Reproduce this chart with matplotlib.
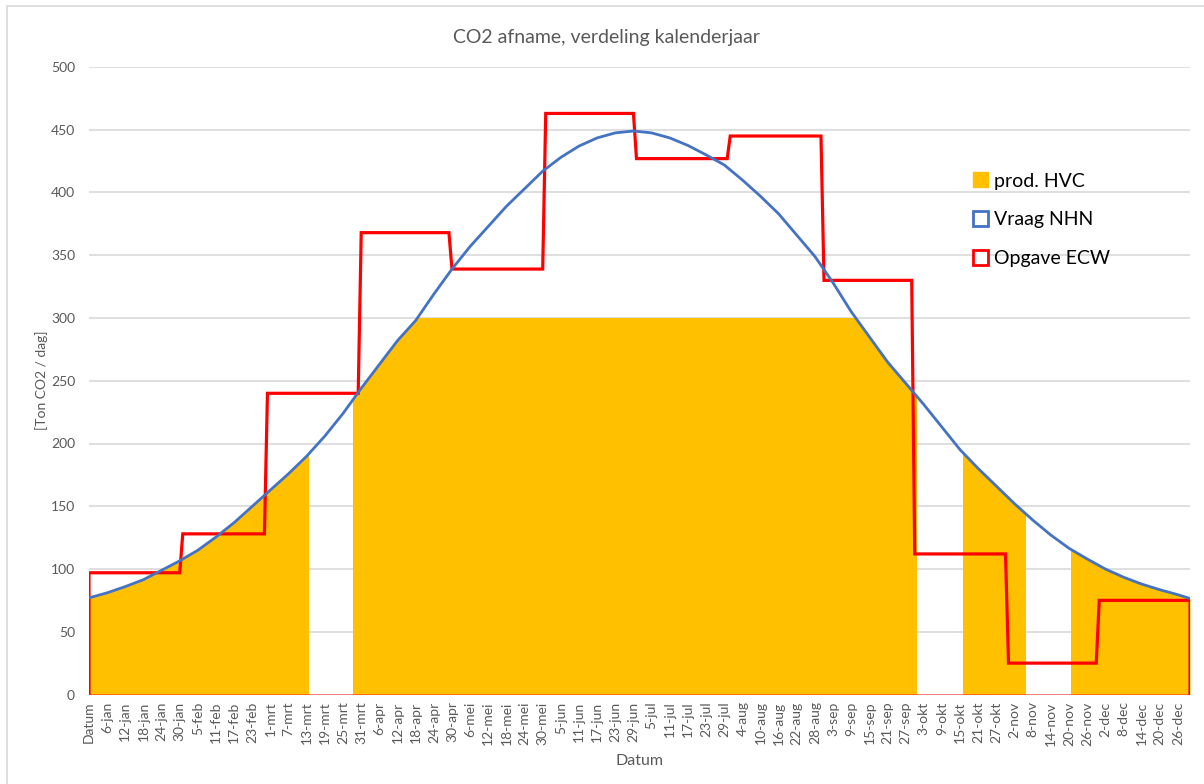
import matplotlib
matplotlib.use("Agg")
import matplotlib.pyplot as plt
from matplotlib.patches import Rectangle, Patch
import numpy as np

plt.rcParams['font.family'] = ['Lato', 'DejaVu Sans']

# Vraag NHN, read every 6 days (day 0 = first category)
vraag_dagen = list(range(0, 361, 6)) + [364]
vraag_nhn = [77, 81, 86, 91.5, 99, 106.5, 115, 125.5, 137, 150,
             163, 176, 190, 206, 224, 244, 263, 282, 298, 319,
             339, 357, 373, 389, 403, 417, 428, 437, 443.5, 447.5,
             449, 447.5, 443.5, 437.5, 430, 422, 410, 397, 383, 366,
             349, 328, 305, 285, 265, 248, 231, 213, 195, 180,
             166, 152, 139, 127, 116.5, 108, 100, 93.5, 88, 83.5,
             79.5, 76.5]

# Opgave ECW, one level per month
maand_dagen = [31, 28, 31, 30, 31, 30, 31, 31, 30, 31, 30, 31]
opgave_ecw = [97, 128, 240, 368, 339, 463, 427, 445, 330, 112, 25, 75]

# prod. HVC: capped at 300, only within these periods
prod_max = 300
prod_perioden = [(0, 72.3), (87.4, 273.4), (288.8, 309.5), (324.6, 364)]

x_labels = ['Datum', '6-jan', '12-jan', '18-jan', '24-jan', '30-jan', '5-feb', '11-feb',
            '17-feb', '23-feb', '1-mrt', '7-mrt', '13-mrt', '19-mrt', '25-mrt', '31-mrt',
            '6-apr', '12-apr', '18-apr', '24-apr', '30-apr', '6-mei', '12-mei', '18-mei',
            '24-mei', '30-mei', '5-jun', '11-jun', '17-jun', '23-jun', '29-jun', '5-jul',
            '11-jul', '17-jul', '23-jul', '29-jul', '4-aug', '10-aug', '16-aug', '22-aug',
            '28-aug', '3-sep', '9-sep', '15-sep', '21-sep', '27-sep', '3-okt', '9-okt',
            '15-okt', '21-okt', '27-okt', '2-nov', '8-nov', '14-nov', '20-nov', '26-nov',
            '2-dec', '8-dec', '14-dec', '20-dec', '26-dec']

ORANJE = '#FFC000'
BLAUW = '#4472C4'
ROOD = '#FF0000'
GRIJS = '#595959'
XMAX = 364

fig = plt.figure(figsize=(12.04, 7.84), dpi=100)
ax = fig.add_axes([89 / 1204, 1 - 694.5 / 784, 1101 / 1204, 627.5 / 784])

# outer chart border (left/top visible)
fig.patches.append(Rectangle((6.5 / 1204, -0.1), 1.2, 1.1 - 6.5 / 784, transform=fig.transFigure,
                             fill=False, edgecolor='#D9D9D9', lw=1.2))

# production area, clipped to each period and the cap
for a, b in prod_perioden:
    poly = ax.fill_between(vraag_dagen, vraag_nhn, color=ORANJE, lw=0, zorder=2)
    rect = Rectangle((a, 0), b - a, prod_max, transform=ax.transData)
    poly.set_clip_path(rect)

# Opgave ECW steps
starts = np.concatenate([[0], np.cumsum(maand_dagen)[:-1]])
rx, ry = [0], [0]
for i, lvl in enumerate(opgave_ecw):
    s = starts[i]
    e = starts[i + 1] - 1 if i + 1 < len(starts) else XMAX
    rx += [s, e]
    ry += [lvl, lvl]
rx.append(XMAX)
ry.append(0)
ax.plot(rx, ry, color=ROOD, lw=2.3, zorder=4, solid_joinstyle='miter')

ax.plot(vraag_dagen, vraag_nhn, color=BLAUW, lw=2.0, zorder=5)

ax.axhline(0, color=ROOD, alpha=0.4, lw=1.5, zorder=3)

ax.set_xlim(0, XMAX)
ax.set_ylim(0, 500)
ax.set_yticks(range(0, 501, 50))
ax.set_xticks(range(0, 361, 6))
ax.set_xticklabels(x_labels, rotation=90, fontsize=10, color=GRIJS)
ax.set_xticks(range(0, 361, 30), minor=True)
ax.tick_params(axis='y', labelsize=10, labelcolor=GRIJS, pad=10)
ax.tick_params(which='both', length=0)
ax.tick_params(axis='x', pad=5)
ax.grid(axis='y', color='#D9D9D9', lw=1.2, zorder=0)
ax.grid(axis='x', which='minor', color='#D9D9D9', lw=1.2, zorder=0)
ax.set_axisbelow(True)
for sp in ax.spines.values():
    sp.set_visible(False)

ax.set_ylabel('[Ton CO2 / dag]', fontsize=10, color=GRIJS, labelpad=2)
ax.set_xlabel('Datum', fontsize=11.5, color=GRIJS, labelpad=6)
fig.text(0.504, 1 - 37 / 784, 'CO2 afname, verdeling kalenderjaar', ha='center', va='center',
         fontsize=14, color=GRIJS)

handles = [Patch(facecolor=ORANJE, edgecolor=ORANJE),
           Patch(facecolor='white', edgecolor=BLAUW, lw=2),
           Patch(facecolor='white', edgecolor=ROOD, lw=2)]
leg = ax.legend(handles, ['prod. HVC', 'Vraag NHN', 'Opgave ECW'], loc='upper left',
                bbox_to_anchor=(866 / 1101, 1 - 88 / 627.5), frameon=False, fontsize=14,
                handlelength=0.8, handleheight=0.8, handletextpad=0.3, labelspacing=1.1)

fig.savefig('out.png', dpi=100)
